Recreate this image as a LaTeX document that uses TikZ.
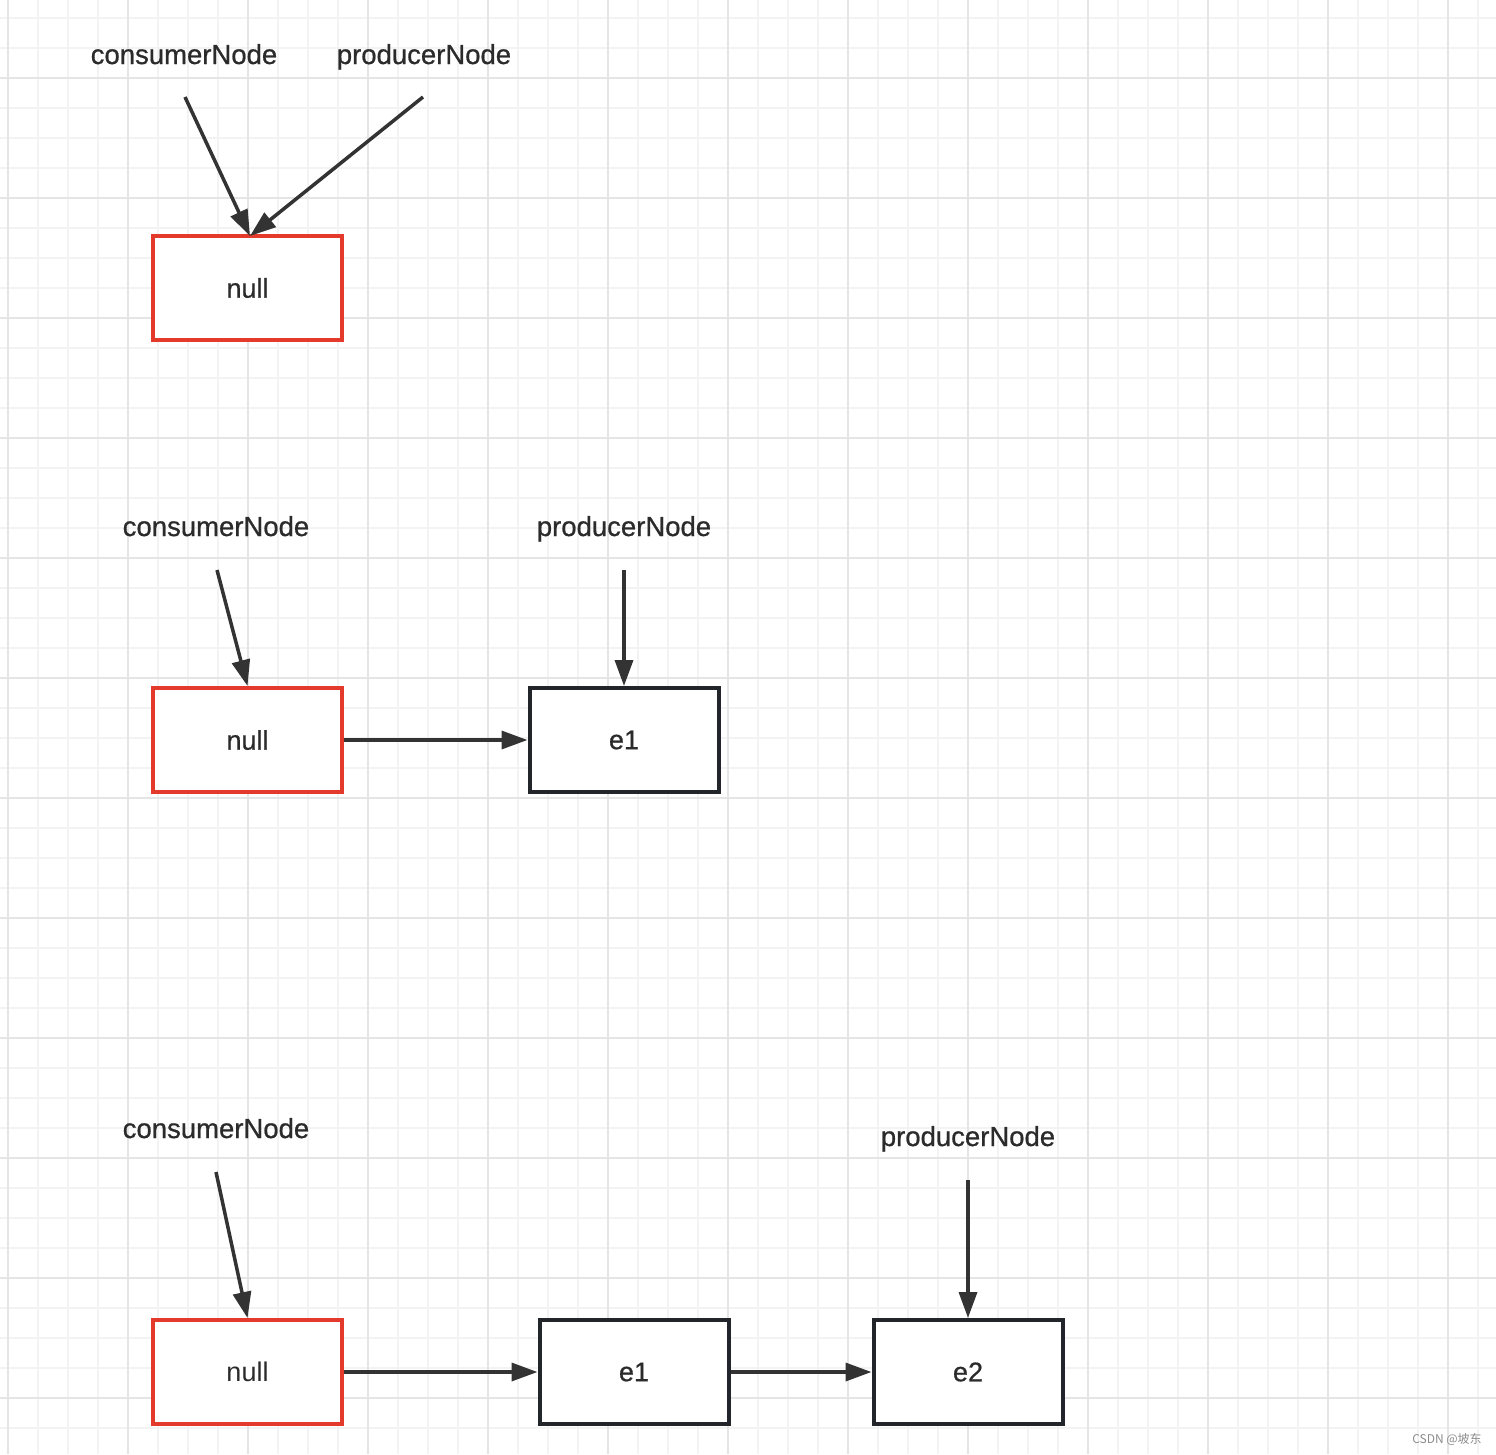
\documentclass[tikz,border=0pt]{standalone}
\usepackage{fontspec}
\setmainfont{Liberation Sans}
\newfontfamily\lblfont{Liberation Sans}[FakeBold=0.7]
\newfontfamily\cjkfont{Noto Sans CJK SC}
\usetikzlibrary{arrows.meta}
\definecolor{gridminor}{HTML}{F3F3F3}
\definecolor{gridmajor}{HTML}{E5E5E5}
\definecolor{redline}{HTML}{E33A2C}
\definecolor{darkline}{HTML}{22262B}
\definecolor{arrowc}{HTML}{333333}
\definecolor{textc}{HTML}{2B2B2B}
\begin{document}
\begin{tikzpicture}[x=1pt,y=-1pt,
  minorline/.style={gridminor, line width=1.2pt},
  majorline/.style={gridmajor, line width=2pt},
  boxbase/.style={line width=4pt, minimum width=189pt, minimum height=104pt, inner sep=0pt, fill=white, font=\lblfont\fontsize{27}{30}\selectfont, text=textc},
  nullbox/.style={boxbase, draw=redline},
  elembox/.style={boxbase, draw=darkline},
  lbl/.style={font=\lblfont\fontsize{27.5}{30}\selectfont, text=textc, inner sep=0pt, anchor=base},
  conn/.style={draw=arrowc, line width=3.5pt, -{Triangle[length=26pt,width=18pt]}},
]
\useasboundingbox (0,0) rectangle (1496,1454);
\fill[white] (0,0) rectangle (1496,1454);
% grid
\foreach \x in {8,38,...,1496} \draw[minorline] (\x,0) -- (\x,1454);
\foreach \y in {18,48,...,1454} \draw[minorline] (0,\y) -- (1496,\y);
\foreach \x in {8,128,...,1496} \draw[majorline] (\x,0) -- (\x,1454);
\foreach \y in {78,198,...,1454} \draw[majorline] (0,\y) -- (1496,\y);

% panel 1
\node[lbl] (cn1) at (184,64) {consumerNode};
\node[lbl] (pn1) at (424,64) {producerNode};
\node[nullbox] (n1) at (247.5,288) {null};
\coordinate (c1s) at (185,97);
\coordinate (p1s) at (423,97);
\coordinate (n1t) at (250,236);
\draw[conn] (c1s) -- (n1t);
\draw[conn] (p1s) -- (n1t);

% panel 2
\node[lbl] (cn2) at (216,536) {consumerNode};
\node[lbl] (pn2) at (624,536) {producerNode};
\node[nullbox] (n2) at (247.5,740) {null};
\node[elembox] (e12) at (624,740) {e1};
\coordinate (c2s) at (217,570);
\coordinate (p2s) at (624,570);
\draw[conn] (c2s) -- (n2.north);
\draw[conn] (p2s) -- (e12.north);
\draw[conn] (n2.east) -- (e12.west);

% panel 3
\node[lbl] (cn3) at (216,1138) {consumerNode};
\node[lbl] (pn3) at (968,1146) {producerNode};
\node[nullbox, font=\fontsize{27}{30}\selectfont] (n3) at (247.5,1372) {null};
\node[elembox] (e13) at (634,1372) {e1};
\node[elembox] (e23) at (968,1372) {e2};
\coordinate (c3s) at (216,1172);
\coordinate (p3s) at (968,1180);
\draw[conn] (c3s) -- (n3.north);
\draw[conn] (p3s) -- (e23.north);
\draw[conn] (n3.east) -- (e13.west);
\draw[conn] (e13.east) -- (e23.west);

% watermark
\node[font=\cjkfont\fontsize{12}{14}\selectfont, text=black!45, inner sep=0pt] (wm) at (1447,1439) {CSDN @坡东};
\end{tikzpicture}
\end{document}
